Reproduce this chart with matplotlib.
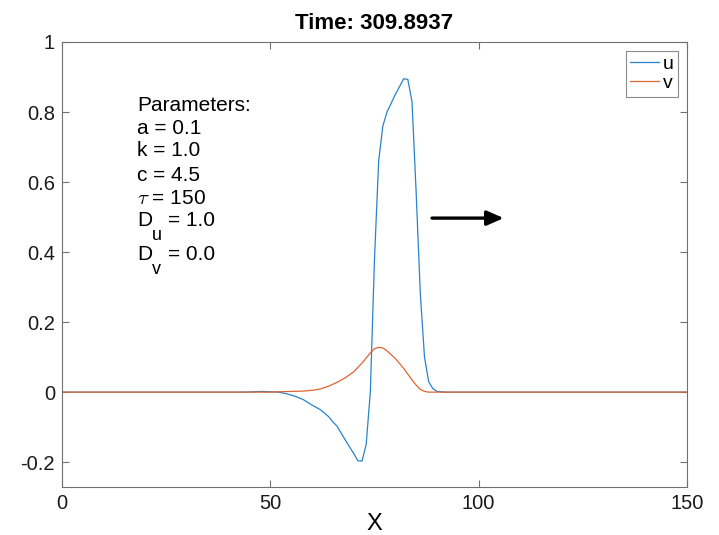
import matplotlib
matplotlib.use('Agg')
import matplotlib.pyplot as plt

plt.rcParams['font.family'] = ['Liberation Sans', 'DejaVu Sans']
plt.rcParams['mathtext.fontset'] = 'cm'

x_u = [0, 44, 48, 52, 54, 56, 58, 60, 62, 64, 65, 66, 68, 70, 71, 72, 73, 74,
       75, 76, 77, 78, 80, 82, 83, 84, 85, 86, 87, 88, 89, 90, 92, 150]
u = [0, 0, 0.002, 0.0, -0.005, -0.012, -0.022, -0.037, -0.05, -0.07, -0.085,
     -0.097, -0.137, -0.175, -0.196, -0.197, -0.15, 0.0,
     0.38, 0.66, 0.76, 0.80, 0.85, 0.895, 0.893, 0.83, 0.57, 0.28, 0.1, 0.03,
     0.01, 0.002, 0, 0]

x_v = [0, 50, 52, 55, 58, 60, 62, 64, 66, 68, 70, 72, 74, 75, 76, 77, 78, 80,
       82, 84, 85, 86, 87, 88, 150]
v = [0, 0, 0.001, 0.002, 0.003, 0.005, 0.009, 0.017, 0.028, 0.041, 0.058,
     0.083, 0.112, 0.124, 0.128, 0.126, 0.118, 0.096, 0.068, 0.035, 0.02,
     0.008, 0.002, 0, 0]

params = ['Parameters:', 'a = 0.1', 'k = 1.0', 'c = 4.5', r'$\tau$ = 150']
param_y = [0.820, 0.754, 0.689, 0.620, 0.554]
# diffusion lines: symbol, subscript, value, y
diff = [('D', 'u', '= 1.0', 0.491), ('D', 'v', '= 0.0', 0.392)]

fig = plt.figure(figsize=(7.19, 5.35), dpi=100)
ax = fig.add_axes([0.0862, 0.0897, 0.8693, 0.8318])

ax.plot(x_u, u, color='#2A83C8', lw=0.9, label='u')
ax.plot(x_v, v, color='#DE6533', lw=0.9, label='v')

ax.set_xlim(0, 150)
ax.set_ylim(-0.271, 1)
ax.set_xticks([0, 50, 100, 150])
ax.set_yticks([-0.2, 0, 0.2, 0.4, 0.6, 0.8, 1])
ax.set_yticklabels(['-0.2', '0', '0.2', '0.4', '0.6', '0.8', '1'])
ax.tick_params(direction='in', top=True, right=True, length=5,
               labelsize=14.5, color='#707070', labelcolor='#1a1a1a')
ax.tick_params(axis='x', pad=5)
ax.tick_params(axis='y', pad=5)
for s in ax.spines.values():
    s.set_color('#707070')
    s.set_linewidth(0.8)

ax.set_title('Time: 309.8937', fontsize=16, fontweight='bold', pad=9)
ax.set_xlabel('X', fontsize=17, labelpad=0)

for txt, yy in zip(params, param_y):
    ax.text(18, yy, txt, fontsize=15, va='center', ha='left')

for sym, sub, val, yy in diff:
    ax.text(18, yy, sym, fontsize=15, va='center', ha='left')
    ax.annotate(sub, xy=(18, yy), xytext=(15, -15), textcoords='offset pixels',
                fontsize=13, va='center', ha='left')
    ax.annotate(val, xy=(18, yy), xytext=(31, 0), textcoords='offset pixels',
                fontsize=15, va='center', ha='left')

ax.annotate('', xy=(106, 0.497), xytext=(88.8, 0.497),
            arrowprops=dict(arrowstyle='-|>,head_length=0.5,head_width=0.22',
                            color='black', lw=2.4, mutation_scale=20,
                            shrinkA=0, shrinkB=0))

leg = ax.legend(loc='upper right', fontsize=14, handlelength=1.45,
                handletextpad=0.2, borderpad=0.25, labelspacing=0.05,
                fancybox=False, borderaxespad=0.45)
leg.get_frame().set_edgecolor('#707070')
leg.get_frame().set_linewidth(0.8)

fig.savefig('out.png', dpi=100)
